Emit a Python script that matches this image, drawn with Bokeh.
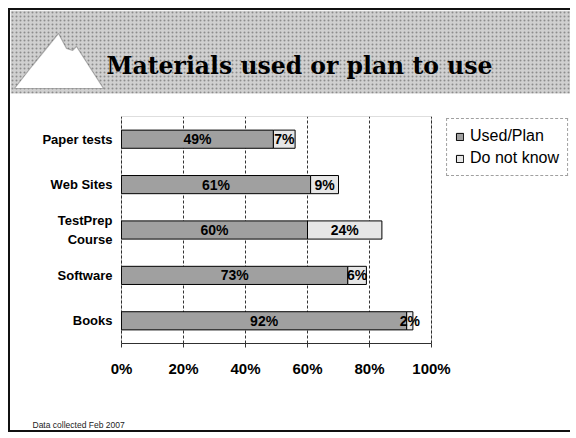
from bokeh.plotting import figure
from bokeh.layouts import column
from bokeh.models import (ColumnDataSource, Range1d, FixedTicker, Legend, LegendItem,
                          Label, BoxAnnotation, PolyAnnotation)
from bokeh.core.properties import value
from bokeh.embed import file_html
from bokeh.resources import INLINE

# ---- data ----
categories = ["Books", "Software", "TestPrep Course", "Web Sites", "Paper tests"]
category_labels = ["Books", "Software", "TestPrep\nCourse", "Web Sites", "Paper tests"]
used_plan = [92, 73, 60, 61, 49]
do_not_know = [2, 6, 24, 9, 7]
series_names = ["Used/Plan", "Do not know"]
series_colors = ["#a0a0a0", "#e6e6e6"]
x_ticks = [0, 20, 40, 60, 80, 100]
x_tick_labels = ["0%", "20%", "40%", "60%", "80%", "100%"]
title_text = "Materials used or plan to use"
footnote_text = "Data collected Feb 2007"

FONT = "Liberation Sans"
W = 560
H_MAIN = 280
PX_AT_0, PX_AT_100 = 111, 421          # horizontal placement of the 0..100 scale
UNIT = 100.0 / (PX_AT_100 - PX_AT_0)   # data units per pixel


def blank_fig(width, height, **kw):
    f = figure(width=width, height=height, output_backend="svg", toolbar_location=None,
               min_border_left=0, min_border_right=0, min_border_top=0, min_border_bottom=0,
               **kw)
    f.axis.visible = False
    f.grid.visible = False
    f.outline_line_color = None
    f.background_fill_color = "white"
    f.border_fill_color = "white"
    return f


# ---- header (pixel coordinates, y downward) ----
head = blank_fig(W, 100, x_range=Range1d(0, W), y_range=Range1d(100, 0))
head.add_layout(BoxAnnotation(left=0, right=W, top=0, bottom=83,
                              fill_color="#d0d0d0", fill_alpha=1.0,
                              hatch_pattern="dot", hatch_color="#8c8c8c", hatch_scale=4,
                              line_color=None))
head.add_layout(PolyAnnotation(xs=[4, 22, 48, 56, 62, 66, 93],
                               ys=[78, 55, 23, 38, 40, 36, 78],
                               fill_color="white", fill_alpha=1.0,
                               line_color="#222222", line_width=1.2))
head.add_layout(Label(x=96, y=55, text=title_text, text_font="DejaVu Serif",
                      text_font_style="bold", text_font_size="23.5px", text_color="black",
                      text_align="left", text_baseline="alphabetic"))

# ---- main chart: the frame spans the full width, the 0..100 scale sits inside it ----
src = ColumnDataSource(dict(cat=categories, used=used_plan, dk=do_not_know))

p = figure(width=W, height=H_MAIN, y_range=categories,
           x_range=Range1d(-PX_AT_0 * UNIT, 100 + (W - PX_AT_100) * UNIT),
           output_backend="svg", toolbar_location=None,
           min_border_left=0, min_border_right=0, min_border_top=6, min_border_bottom=47)
p.background_fill_color = "white"
p.border_fill_color = "white"
p.outline_line_color = None

# plot box (top and right edges) over the 0..100 scale
p.add_layout(BoxAnnotation(left=x_ticks[0], right=x_ticks[-1], fill_alpha=0,
                           line_color="#222222", line_width=1))

renderers = p.hbar_stack(["used", "dk"], y="cat", height=0.4, source=src,
                         fill_color=series_colors, line_color="black", line_width=1)

lab = ColumnDataSource(dict(
    x=[u / 2 for u in used_plan] + [u + d / 2 for u, d in zip(used_plan, do_not_know)],
    y=categories + categories,
    t=[f"{u}%" for u in used_plan] + [f"{d}%" for d in do_not_know]))
p.text(x="x", y="y", text="t", source=lab, text_align="center", text_baseline="middle",
       text_font=value(FONT), text_font_style="bold", text_font_size="14px",
       text_color="black")

# category labels, right-aligned just left of the scale
p.text(x=[-9 * UNIT] * len(categories), y=categories, text=category_labels,
       text_align="right", text_baseline="middle", text_font=value(FONT),
       text_font_style="bold", text_font_size="13px", text_color="black",
       text_line_height=1.25)

p.xaxis.ticker = FixedTicker(ticks=x_ticks)
p.xaxis.bounds = (x_ticks[0], x_ticks[-1])
p.xaxis.major_label_overrides = {t: l for t, l in zip(x_ticks, x_tick_labels)}
p.xaxis.major_label_text_font = FONT
p.xaxis.major_label_text_font_style = "bold"
p.xaxis.major_label_text_font_size = "15px"
p.xaxis.major_label_text_color = "black"
p.xaxis.major_tick_out = 4
p.xaxis.major_tick_in = 0
p.xaxis.major_label_standoff = 12
p.xaxis.minor_tick_line_color = None
p.xaxis.axis_line_color = "#333333"
p.xaxis.major_tick_line_color = "#333333"
p.yaxis.visible = False

p.xgrid.grid_line_color = "#333333"
p.xgrid.grid_line_dash = "3 2"
p.ygrid.grid_line_color = None

legend = Legend(items=[LegendItem(label=n, renderers=[r]) for n, r in zip(series_names, renderers)],
                location="top_right", orientation="vertical",
                label_text_font=FONT, label_text_font_size="16px", label_text_color="black",
                glyph_width=9, glyph_height=9, label_standoff=6, spacing=4,
                padding=8, margin=2, label_height=16,
                border_line_color="#444444", border_line_dash="2 1", border_line_width=1,
                background_fill_color="white", background_fill_alpha=1.0)
p.add_layout(legend)

# ---- footnote ----
foot = blank_fig(W, 40, x_range=Range1d(0, W), y_range=Range1d(40, 0))
foot.add_layout(Label(x=22, y=34, text=footnote_text, text_font=FONT,
                      text_font_size="8.5px", text_color="#222222",
                      text_align="left", text_baseline="middle"))

layout = column(head, p, foot, margin=(8, 0, 0, 8),
                styles={"border-left": "2px solid #111111", "border-top": "2px solid #111111",
                        "border-bottom": "2px solid #111111"})

open("out.html", "w").write(file_html(layout, INLINE))
